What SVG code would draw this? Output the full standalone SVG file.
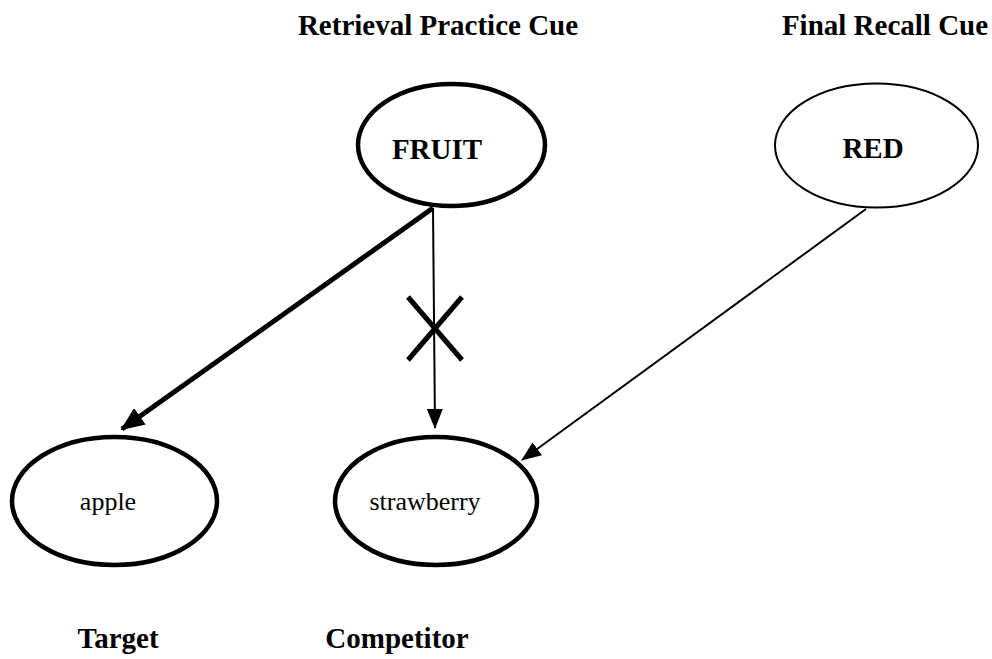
<svg xmlns="http://www.w3.org/2000/svg" width="992" height="659" viewBox="0 0 992 659">
  <style>
    .heading { font-family: "Liberation Serif", "Times New Roman", serif; font-weight: bold; font-size: 29px; fill: #000; }
    .word { font-family: "Liberation Serif", "Times New Roman", serif; font-size: 26px; fill: #000; }
    .cue { font-family: "Liberation Serif", "Times New Roman", serif; font-weight: bold; font-size: 29px; fill: #000; }
    .thick { fill: #fff; stroke: #000; stroke-width: 4.5; }
    .thin { fill: #fff; stroke: #000; stroke-width: 2; }
    .link { fill: none; stroke: #000; }
  </style>
  <defs>
    <marker id="headBig" markerUnits="userSpaceOnUse" viewBox="0 0 24 20" refX="22" refY="10" markerWidth="24" markerHeight="20" orient="auto">
      <path d="M0,0 L24,10 L0,20 Z" fill="#000"/>
    </marker>
    <marker id="headSmall" markerUnits="userSpaceOnUse" viewBox="0 0 20 16" refX="19" refY="8" markerWidth="20" markerHeight="16" orient="auto">
      <path d="M0,0 L20,8 L0,16 Z" fill="#000"/>
    </marker>
  </defs>

  <rect width="992" height="659" fill="#fff"/>

  <!-- column headings -->
  <text class="heading" x="438" y="35" text-anchor="middle">Retrieval Practice Cue</text>
  <text class="heading" x="885" y="35" text-anchor="middle">Final Recall Cue</text>
  <text class="heading" x="118" y="648" text-anchor="middle">Target</text>
  <text class="heading" x="397" y="648" text-anchor="middle">Competitor</text>

  <!-- connectors -->
  <g id="connectors">
    <line class="link" x1="433" y1="208" x2="122" y2="429" stroke-width="5" marker-end="url(#headBig)"/>
    <line class="link" x1="433" y1="208" x2="435" y2="428" stroke-width="2" marker-end="url(#headSmall)"/>
    <line class="link" x1="866" y1="209" x2="522" y2="460" stroke-width="2" marker-end="url(#headSmall)"/>
    <!-- blocked link mark -->
    <line class="link" x1="408" y1="297" x2="462" y2="360" stroke-width="5"/>
    <line class="link" x1="462" y1="297" x2="408" y2="360" stroke-width="5"/>
  </g>

  <g id="fruit">
    <ellipse class="thick" cx="451.5" cy="145" rx="93.5" ry="61"/>
    <text class="cue" x="437" y="159" text-anchor="middle">FRUIT</text>
  </g>

  <g id="red">
    <ellipse class="thin" cx="876.5" cy="145.5" rx="101.5" ry="62"/>
    <text class="cue" x="873" y="158" text-anchor="middle">RED</text>
  </g>

  <g id="apple">
    <ellipse class="thick" cx="114.5" cy="501" rx="102.5" ry="64"/>
    <text class="word" x="108" y="510" text-anchor="middle">apple</text>
  </g>

  <g id="strawberry">
    <ellipse class="thick" cx="436" cy="501" rx="101" ry="64"/>
    <text class="word" x="425" y="510" text-anchor="middle">strawberry</text>
  </g>
</svg>
